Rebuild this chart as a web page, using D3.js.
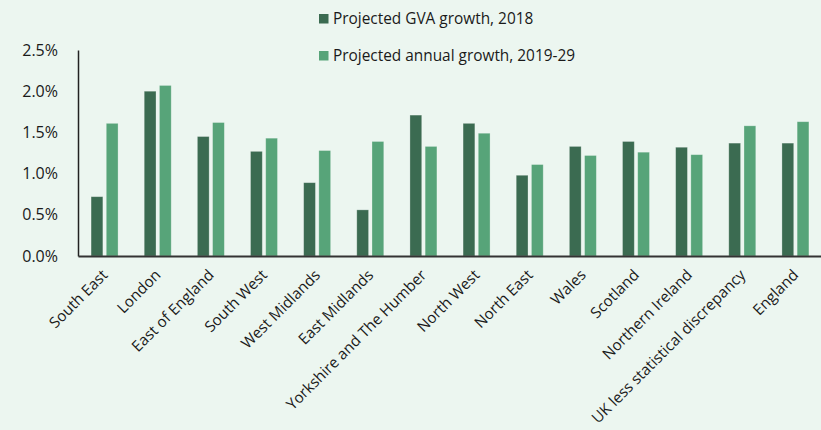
<!DOCTYPE html>
<html><head><meta charset="utf-8">
<script src="https://cdn.jsdelivr.net/npm/d3@7"></script>
<style>
html,body{margin:0;padding:0;background:#ecf6f0;}
text{font-family:"Open Sans",sans-serif;fill:#1a1a1a;}
</style></head>
<body><svg id="c" width="821" height="430"></svg>
<script>
const categories = ["South East","London","East of England","South West","West Midlands","East Midlands","Yorkshire and The Humber","North West","North East","Wales","Scotland","Northern Ireland","UK less statistical discrepancy","England"];
const gva2018 = [0.72,2.00,1.45,1.27,0.89,0.56,1.71,1.61,0.98,1.33,1.39,1.32,1.37,1.37];
const annual2019_29 = [1.61,2.07,1.62,1.43,1.28,1.39,1.33,1.49,1.11,1.22,1.26,1.23,1.58,1.63];
const seriesNames = ["Projected GVA growth, 2018","Projected annual growth, 2019-29"];
const colors = ["#3b6b51","#57a479"];
const yTicks = [0,0.5,1.0,1.5,2.0,2.5];

const svg = d3.select("#c");
svg.append("rect").attr("width",821).attr("height",430).attr("fill","#ecf6f0");
const x = d3.scaleBand().domain(categories).range([78,822]).paddingInner(0).paddingOuter(0);
const y = d3.scaleLinear().domain([0,2.5]).range([256,50]);
const series = [gva2018, annual2019_29];
const bw = 11.8, gap = 3.4;

series.forEach((vals,si)=>{
  svg.append("g").selectAll("rect").data(vals).join("rect")
    .attr("x",(d,i)=>{const c=x(categories[i])+x.bandwidth()/2; return si===0? c-gap/2-bw : c+gap/2;})
    .attr("y",d=>y(d)).attr("width",bw).attr("height",d=>y(0)-y(d))
    .attr("fill",colors[si]).attr("stroke","rgba(255,255,255,0.35)").attr("stroke-width",0.8);
});

// y axis
const ya = svg.append("g").attr("transform","translate(78,0)")
  .call(d3.axisLeft(y).tickValues(yTicks).tickSize(0).tickPadding(20).tickFormat(d=>d.toFixed(1)+"%"));
ya.select(".domain").attr("stroke","#222").attr("stroke-width",1.5);
ya.selectAll("text").attr("font-size","16px").attr("font-family","'Open Sans',sans-serif").attr("fill","#1a1a1a");

// x axis
const xa = svg.append("g").attr("transform","translate(0,256)")
  .call(d3.axisBottom(x).tickSize(0).tickSizeOuter(0));
xa.select(".domain").attr("stroke","#333").attr("stroke-width",2);
xa.selectAll("text").attr("font-size","15.2px").attr("font-family","'Open Sans',sans-serif").attr("fill","#1a1a1a")
  .attr("text-anchor","end").attr("dy",0).attr("y",0)
  .attr("transform","translate(4,20) rotate(-45)");

// legend
const lg = svg.append("g");
seriesNames.forEach((n,i)=>{
  const yy = 14 + i*37;
  lg.append("rect").attr("x",319).attr("y",yy).attr("width",9.5).attr("height",9.5).attr("fill",colors[i]);
  lg.append("text").attr("x",333).attr("y",yy+9.5).attr("font-size","15.4px").text(n);
});
</script></body></html>
